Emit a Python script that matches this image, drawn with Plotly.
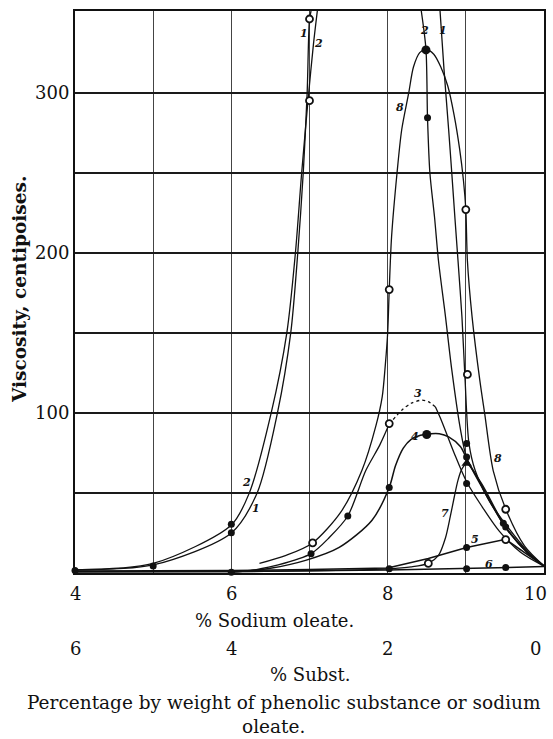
import plotly.graph_objects as go

# ---------------- data ----------------
# curve 1 / curve 2, left branches (rise off the top near 7 % oleate)
c1a_x = [4, 5, 6, 6.33, 6.59, 6.76, 6.85, 6.92, 6.97, 7.0, 7.02]
c1a_y = [2, 5, 25, 50, 100, 150, 200, 250, 300, 346, 351]
c2a_x = [4, 5, 6, 6.23, 6.51, 6.71, 6.82, 6.90, 6.99, 7.05, 7.10]
c2a_y = [2, 6, 30, 50, 100, 150, 200, 250, 300, 330, 351]

# curve 1 / curve 2, right branches (come back down from the top)
c2b_x = [8.43, 8.49, 8.51, 8.54, 8.60, 8.65, 8.74, 8.82, 8.93, 9.01, 9.2, 9.5, 9.8, 10.01]
c2b_y = [351, 327, 284, 250, 222, 195, 160, 127, 90, 72, 54, 29, 12, 4]
c1b_x = [8.67, 8.72, 8.78, 8.82, 8.86, 8.90, 8.95, 8.99, 9.04, 9.12, 9.3, 9.5, 9.8, 10.01]
c1b_y = [351, 315, 277, 250, 222, 195, 160, 121, 81, 64, 45, 31, 13, 4]

# curve 8
c8_x = [6.36, 6.7, 7.04, 7.4, 7.67, 7.85, 7.93, 7.97, 8.0, 8.02, 8.05, 8.12, 8.18, 8.27,
        8.33, 8.41, 8.49, 8.59, 8.68, 8.77, 8.85, 8.92, 8.97, 9.0, 9.02, 9.08, 9.18, 9.24,
        9.35, 9.51, 9.75, 10.01]
c8_y = [6, 11, 18.8, 38, 64, 92, 110, 130, 150, 177, 210, 250, 277, 300,
        316, 325, 327, 324, 316, 304, 286, 265, 245, 227, 195, 160, 120, 100,
        64, 40, 17, 4]

# curve 3 (solid - dashed top - solid)
c3a_x = [6.2, 6.6, 7.02, 7.25, 7.49, 7.72, 7.9, 8.02]
c3a_y = [1, 5, 12.1, 22, 35.6, 64, 80, 93]
c3b_x = [8.02, 8.18, 8.3, 8.44, 8.52, 8.61]
c3b_y = [93, 101.7, 106, 108, 107, 103.8]
c3c_x = [8.61, 8.69, 8.85, 9.01, 9.2, 9.43, 9.7, 10.01]
c3c_y = [103.8, 95, 75, 57, 42, 26, 13, 4]

# curve 4
c4_x = [6.0, 6.5, 6.95, 7.38, 7.8, 8.02, 8.1, 8.2, 8.3, 8.42, 8.55, 8.66, 8.78, 8.93, 9.01, 9.2, 9.5, 9.8, 10.01]
c4_y = [0.5, 3, 7.9, 16, 33, 53.4, 67, 78, 83.5, 86, 87, 87, 85, 79, 71.5, 55, 29, 12, 4]

# curve 5, 6 (straight segments), curve 7
c5_x = [4, 6, 7, 8, 8.52, 9.01, 9.51, 10.01]
c5_y = [1.2, 1.5, 2.2, 3.2, 9, 15.9, 21, 4]
c6_x = [4, 6, 8, 9.01, 9.51, 10.01]
c6_y = [1, 1, 1.8, 2.7, 3.4, 4]
c7_x = [4, 6, 7, 8, 8.3, 8.52, 8.65, 8.74, 8.8, 8.85, 8.9, 8.95, 9.01, 9.2, 9.5, 9.8, 10.01]
c7_y = [0.5, 0.8, 1.3, 2.6, 3.8, 6, 11, 22, 35, 47, 58, 65, 68.4, 56, 29.5, 12.5, 4]

# observed points
filled_x = [4, 5, 6, 6, 6, 7.02, 7.49, 8.02, 8.02, 8.51, 9.01, 9.01, 9.01, 9.01, 9.01, 9.48, 9.51, 9.51]
filled_y = [1.5, 4.4, 30.4, 25.2, 0.5, 12.1, 35.6, 53.4, 2.7, 284.4, 80.9, 72.5, 55.9, 15.9, 2.7, 31, 28.8, 3.4]
big_x = [8.49, 8.50]
big_y = [326.7, 86.5]
tri_x = [9.01]
tri_y = [68.4]
open_x = [7.0, 7.0, 7.04, 8.02, 8.02, 9.0, 9.02, 9.51, 9.51, 8.52, 10.01]
open_y = [295, 346, 18.8, 177, 93.3, 227, 124, 39.8, 20.9, 6, 4]

# curve labels
lab_text = ["1", "2", "2", "1", "8", "2", "1", "3", "4", "8", "7", "5", "6"]
lab_x = [6.93, 7.12, 8.47, 8.71, 8.16, 6.20, 6.31, 8.39, 8.35, 9.41, 8.73, 9.12, 9.29]
lab_y = [337, 331, 339, 339, 291, 56.7, 40, 112, 85.4, 71.5, 37, 21, 5.5]

# axis ticks
oleate_ticks = [4, 6, 8, 10]
subst_ticks = [10 - v for v in oleate_ticks]   # 6, 4, 2, 0
y_ticks = [50, 100, 150, 200, 250, 300]
y_ticktext = ["", "100", "", "200", "", "300"]

# ---------------- figure ----------------
SERIF = "DejaVu Serif"
INK = "#111111"
fig = go.Figure()

def curve(x, y, dash="solid", shape="spline", w=1.3):
    fig.add_trace(go.Scatter(x=x, y=y, mode="lines",
                             line=dict(color=INK, width=w, dash=dash, shape=shape, smoothing=0.8),
                             hoverinfo="skip", showlegend=False))

curve(c1a_x, c1a_y)
curve(c2a_x, c2a_y)
curve(c2b_x, c2b_y)
curve(c1b_x, c1b_y)
curve(c8_x, c8_y)
curve(c3a_x, c3a_y)
curve(c3b_x, c3b_y, dash="3px,3px")
curve(c3c_x, c3c_y)
curve(c4_x, c4_y, w=1.5)
curve(c5_x, c5_y, shape="linear", w=1.5)
curve(c6_x, c6_y, shape="linear", w=1.5)
curve(c7_x, c7_y)

fig.add_trace(go.Scatter(x=filled_x, y=filled_y, mode="markers", cliponaxis=False,
                         marker=dict(color=INK, size=7, symbol="circle"),
                         hoverinfo="skip", showlegend=False))
fig.add_trace(go.Scatter(x=big_x, y=big_y, mode="markers", cliponaxis=False,
                         marker=dict(color=INK, size=9, symbol="circle"),
                         hoverinfo="skip", showlegend=False))
fig.add_trace(go.Scatter(x=tri_x, y=tri_y, mode="markers", cliponaxis=False,
                         marker=dict(color=INK, size=9, symbol="triangle-up"),
                         hoverinfo="skip", showlegend=False))
fig.add_trace(go.Scatter(x=open_x, y=open_y, mode="markers", cliponaxis=False,
                         marker=dict(color="white", size=7, symbol="circle",
                                     line=dict(color=INK, width=1.8)),
                         hoverinfo="skip", showlegend=False))

annotations = []
for t, x, y in zip(lab_text, lab_x, lab_y):
    annotations.append(dict(x=x, y=y, xref="x", yref="y", text=f"<i><b>{t}</b></i>",
                            showarrow=False, font=dict(family=SERIF, size=11, color=INK)))

# x tick labels (oleate) and second row (substance)
for v, s in zip(oleate_ticks, subst_ticks):
    shift = -9 if v == 10 else 0
    annotations.append(dict(x=v, y=0, xref="x", yref="paper", text=str(v), showarrow=False,
                            xshift=shift, yshift=-20, yanchor="middle",
                            font=dict(family=SERIF, size=18, color=INK)))
    annotations.append(dict(x=v, y=0, xref="x", yref="paper", text=str(s), showarrow=False,
                            xshift=shift, yshift=-75, yanchor="middle",
                            font=dict(family=SERIF, size=18, color=INK)))

annotations.append(dict(x=(275 - 75) / 471, y=0, xref="paper", yref="paper", text="% Sodium oleate.",
                        showarrow=False, yshift=-47, yanchor="middle",
                        font=dict(family=SERIF, size=18, color=INK)))
annotations.append(dict(x=(311 - 75) / 471, y=0, xref="paper", yref="paper", text="% Subst.",
                        showarrow=False, yshift=-101, yanchor="middle",
                        font=dict(family=SERIF, size=18, color=INK)))
annotations.append(dict(x=(285 - 75) / 471, y=0, xref="paper", yref="paper",
                        text="Percentage by weight of phenolic substance or sodium",
                        showarrow=False, yshift=-129, yanchor="middle",
                        font=dict(family=SERIF, size=18.5, color=INK)))
annotations.append(dict(x=(274 - 75) / 471, y=0, xref="paper", yref="paper",
                        text="oleate.",
                        showarrow=False, yshift=-153, yanchor="middle",
                        font=dict(family=SERIF, size=18.5, color=INK)))
annotations.append(dict(x=0, y=0.5036, xref="paper", yref="paper",
                        text="<b>Viscosity, centipoises.</b>", textangle=-90,
                        showarrow=False, xshift=-55, xanchor="center", yanchor="middle",
                        font=dict(family=SERIF, size=18.5, color=INK)))

fig.update_layout(
    width=553, height=739,
    margin=dict(l=75, r=7, t=11, b=166),
    paper_bgcolor="white", plot_bgcolor="white",
    showlegend=False,
    annotations=annotations,
    xaxis=dict(range=[4, 10], tickvals=[5, 6, 7, 8, 9], showticklabels=False,
               showgrid=True, gridcolor="#444444", gridwidth=1, zeroline=False,
               showline=True, linecolor=INK, linewidth=2, mirror=True, ticks=""),
    yaxis=dict(range=[0, 351], tickvals=y_ticks, ticktext=y_ticktext,
               tickfont=dict(family=SERIF, size=18, color=INK),
               showgrid=True, gridcolor="#1a1a1a", gridwidth=1.6, zeroline=False,
               showline=True, linecolor=INK, linewidth=2, mirror=True, ticks=""),
)

fig.write_html("out.html",
               config={"displayModeBar": False},
               post_script="document.body.style.margin='0';document.body.style.padding='0';"
                           "document.body.style.overflow='hidden';")
